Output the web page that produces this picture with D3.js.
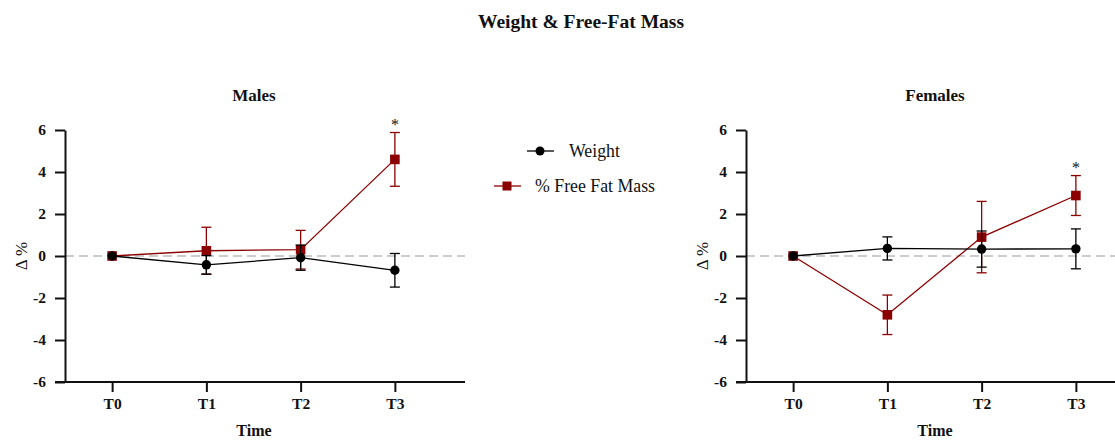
<!DOCTYPE html>
<html><head><meta charset="utf-8">
<script src="https://cdn.jsdelivr.net/npm/d3@7/dist/d3.min.js"></script>
<style>body{margin:0;background:#fff}svg{display:block}svg text{font-family:"Liberation Serif","DejaVu Serif",serif !important;fill:#111}</style>
</head><body>
<svg id="c" width="1115" height="440"></svg>
<script>
const timepoints = ["T0","T1","T2","T3"];
const yTicks = [-6,-4,-2,0,2,4,6];
const seriesNames = ["Weight","% Free Fat Mass"];
const malesWeight = [0,-0.42,-0.08,-0.68];
const malesWeightErr = [0,0.44,0.6,0.8];
const malesFFM = [0,0.25,0.3,4.6];
const malesFFMErr = [0,1.12,0.92,1.28];
const femalesWeight = [0,0.36,0.33,0.34];
const femalesWeightErr = [0,0.55,0.86,0.95];
const femalesFFM = [0,-2.8,0.9,2.88];
const femalesFFMErr = [0,0.94,1.7,0.95];
const sigMarks = ["","","","*"];

const svg = d3.select("#c");
const red = "#8b0000";

svg.append("text").attr("x",581).attr("y",28).attr("text-anchor","middle")
  .attr("font-weight","bold").attr("font-size",19.5).text("Weight & Free-Fat Mass");

function panel(x0, title, w, we, f, fe){
  const x = d3.scalePoint().domain(timepoints).range([x0, x0+377]).padding(0.5);
  const y = d3.scaleLinear().domain([-6,6]).range([382,130]);
  const g = svg.append("g");
  g.append("text").attr("x",x0+189).attr("y",101).attr("text-anchor","middle")
    .attr("font-weight","bold").attr("font-size",17).text(title);
  g.append("line").attr("x1",x0).attr("x2",x0+400).attr("y1",y(0)).attr("y2",y(0))
    .attr("stroke","#cccccc").attr("stroke-width",2).attr("stroke-dasharray","9,5");
  const ya = g.append("g").attr("transform",`translate(${x0},0)`)
    .call(d3.axisLeft(y).tickValues(yTicks).tickFormat(d=>String(d)).tickSize(10).tickSizeOuter(0).tickPadding(9));
  const xa = g.append("g").attr("transform",`translate(0,382)`)
    .call(d3.axisBottom(x).tickSize(10).tickSizeOuter(0).tickPadding(6));
  xa.select(".domain").attr("d",`M${x0-10},0H${x0+400}`);
  [ya,xa].forEach(a=>{
    a.selectAll(".domain,line").attr("stroke","#111").attr("stroke-width",2);
    a.selectAll("text").attr("font-weight","bold").attr("font-size",15.5).attr("fill","#111");
  });
  g.append("text").attr("x",x0+189).attr("y",436).attr("text-anchor","middle")
    .attr("font-weight","bold").attr("font-size",16).text("Time");
  g.append("text").attr("transform",`translate(${x0-38},${y(0)}) rotate(-90)`)
    .attr("text-anchor","middle").attr("font-size",17).text("Δ %");

  function series(vals, errs, color, shape){
    const line = d3.line().x((d,i)=>x(timepoints[i])).y(d=>y(d));
    g.append("path").attr("d",line(vals)).attr("fill","none").attr("stroke",color).attr("stroke-width",1.3);
    vals.forEach((v,i)=>{
      if(errs[i]>0){
        const cx = x(timepoints[i]);
        const eg = g.append("g").attr("stroke",color).attr("stroke-width",1.3);
        eg.append("line").attr("x1",cx).attr("x2",cx).attr("y1",y(v-errs[i])).attr("y2",y(v+errs[i]));
        [v-errs[i],v+errs[i]].forEach(e=>eg.append("line").attr("x1",cx-5).attr("x2",cx+5).attr("y1",y(e)).attr("y2",y(e)));
      }
    });
    vals.forEach((v,i)=>{
      const cx = x(timepoints[i]);
      if(shape==="circle") g.append("circle").attr("cx",cx).attr("cy",y(v)).attr("r",4.7).attr("fill",color);
      else g.append("rect").attr("x",cx-4.8).attr("y",y(v)-4.8).attr("width",9.6).attr("height",9.6).attr("fill",color);
    });
  }
  series(f, fe, red, "square");
  series(w, we, "#000", "circle");
  sigMarks.forEach((s,i)=>{
    if(s){
      const top = Math.max(f[i]+fe[i], w[i]+we[i]);
      g.append("text").attr("x",x(timepoints[i])).attr("y",y(top)-3).attr("text-anchor","middle")
        .attr("font-size",16).attr("fill","#000").text(s);
    }
  });
}
panel(65,"Males",malesWeight,malesWeightErr,malesFFM,malesFFMErr);
panel(746,"Females",femalesWeight,femalesWeightErr,femalesFFM,femalesFFMErr);

const lg = svg.append("g");
[[540,151,"#000","circle",569,seriesNames[0]],[507,186,red,"square",535,seriesNames[1]]].forEach(([cx,cy,c,s,tx,t])=>{
  lg.append("line").attr("x1",cx-13).attr("x2",cx+14).attr("y1",cy).attr("y2",cy).attr("stroke",c).attr("stroke-width",1.3);
  if(s==="circle") lg.append("circle").attr("cx",cx).attr("cy",cy).attr("r",4.5).attr("fill",c);
  else lg.append("rect").attr("x",cx-4.5).attr("y",cy-4.5).attr("width",9).attr("height",9).attr("fill",c);
  lg.append("text").attr("x",tx).attr("y",cy+5.5).attr("font-size",17.8).attr("fill","#111").text(t);
});
</script>
</body></html>
